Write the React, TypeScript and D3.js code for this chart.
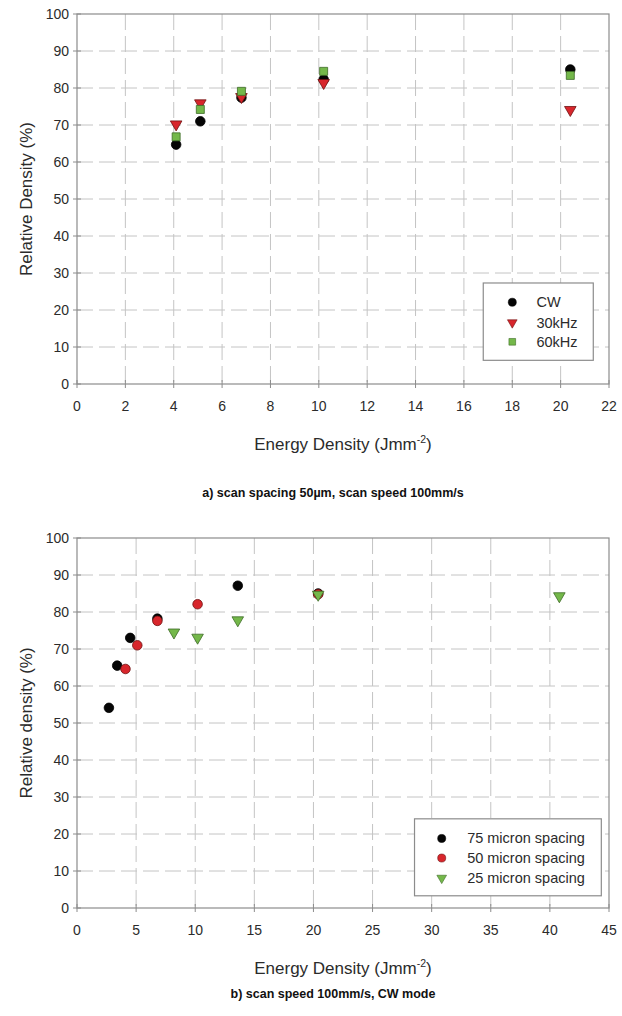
import React, { useEffect, useRef } from "react";
import * as d3 from "d3";

// panel a) scan spacing 50um, scan speed 100mm/s
const energyA = [4.1, 5.1, 6.8, 10.2, 20.4];
const cwA = [64.7, 71.0, 77.4, 82.3, 85.0];
const khz30A = [70.2, 75.9, 77.6, 81.4, 74.1];
const khz60A = [66.8, 74.2, 79.1, 84.5, 83.4];
const xTicksA = [0, 2, 4, 6, 8, 10, 12, 14, 16, 18, 20, 22];

// panel b) scan speed 100mm/s, CW mode
const energy75 = [2.7, 3.4, 4.5, 6.8, 13.6, 20.4];
const density75 = [54.1, 65.5, 73.0, 78.2, 87.1, 85.0];
const energy50 = [4.1, 5.1, 6.8, 10.2, 20.4];
const density50 = [64.6, 71.0, 77.6, 82.1, 84.8];
const energy25 = [8.2, 10.2, 13.6, 20.4, 40.8];
const density25 = [74.5, 73.1, 77.8, 84.7, 84.3];
const xTicksB = [0, 5, 10, 15, 20, 25, 30, 35, 40, 45];

const yTicks = [0, 10, 20, 30, 40, 50, 60, 70, 80, 90, 100];

const FONT = "'Liberation Sans', Arial, sans-serif";
const TEXT = "#2b2b2b";

const STYLES = {
  black: { fill: "#050505", stroke: "#000" },
  red: { fill: "#d8262c", stroke: "#6e1212" },
  green: { fill: "#74b84a", stroke: "#3e6b27" },
};

function symbolPath(shape, size) {
  const type =
    shape === "circle"
      ? d3.symbolCircle
      : shape === "square"
      ? d3.symbolSquare
      : d3.symbolTriangle;
  return d3.symbol().type(type).size(size)();
}

function drawPanel(svg, cfg) {
  const { top, bottom, left, right, xTicks, series, yTitle, caption, legend } =
    cfg;
  const x = d3
    .scaleLinear()
    .domain([0, xTicks[xTicks.length - 1]])
    .range([left, right]);
  const y = d3.scaleLinear().domain([0, 100]).range([bottom, top]);
  const g = svg.append("g");

  // dashed grid
  g.selectAll("line.vgrid")
    .data(xTicks.slice(1, -1))
    .join("line")
    .attr("x1", (d) => x(d))
    .attr("x2", (d) => x(d))
    .attr("y1", top)
    .attr("y2", bottom)
    .attr("stroke", "#c4c4c4")
    .attr("stroke-dasharray", "16,6");
  g.selectAll("line.hgrid")
    .data(yTicks.slice(1, -1))
    .join("line")
    .attr("x1", left)
    .attr("x2", right)
    .attr("y1", (d) => y(d))
    .attr("y2", (d) => y(d))
    .attr("stroke", "#c4c4c4")
    .attr("stroke-dasharray", "16,6");

  // frame
  g.append("rect")
    .attr("x", left)
    .attr("y", top)
    .attr("width", right - left)
    .attr("height", bottom - top)
    .attr("fill", "none")
    .attr("stroke", "#8c8c8c")
    .attr("stroke-width", 1.2);

  // ticks
  g.selectAll("line.xtick")
    .data(xTicks)
    .join("line")
    .attr("x1", (d) => x(d))
    .attr("x2", (d) => x(d))
    .attr("y1", bottom - 4)
    .attr("y2", bottom + 4)
    .attr("stroke", "#8c8c8c");
  g.selectAll("line.ytick")
    .data(yTicks)
    .join("line")
    .attr("x1", left - 4)
    .attr("x2", left + 4)
    .attr("y1", (d) => y(d))
    .attr("y2", (d) => y(d))
    .attr("stroke", "#8c8c8c");

  // tick labels
  g.selectAll("text.xlab")
    .data(xTicks)
    .join("text")
    .attr("x", (d) => x(d))
    .attr("y", bottom + 27)
    .attr("text-anchor", "middle")
    .attr("fill", TEXT)
    .style("font", `14px ${FONT}`)
    .text((d) => d);
  g.selectAll("text.ylab")
    .data(yTicks)
    .join("text")
    .attr("x", left - 8)
    .attr("y", (d) => y(d) + 5)
    .attr("text-anchor", "end")
    .attr("fill", TEXT)
    .style("font", `14px ${FONT}`)
    .text((d) => d);

  // axis titles
  const xt = g
    .append("text")
    .attr("x", (left + right) / 2)
    .attr("y", bottom + 66)
    .attr("text-anchor", "middle")
    .attr("fill", TEXT)
    .style("font", `17px ${FONT}`);
  xt.append("tspan").text("Energy Density (Jmm");
  xt.append("tspan").attr("dy", -7).style("font-size", "10.5px").text("-2");
  xt.append("tspan").attr("dy", 7).text(")");

  g.append("text")
    .attr("transform", `translate(32,${(top + bottom) / 2}) rotate(-90)`)
    .attr("text-anchor", "middle")
    .attr("fill", TEXT)
    .style("font", `17px ${FONT}`)
    .text(yTitle);

  g.append("text")
    .attr("x", caption.x)
    .attr("y", caption.y)
    .attr("text-anchor", "middle")
    .attr("fill", "#111")
    .style("font", `bold 12.5px ${FONT}`)
    .text(caption.text);

  // data points
  series.forEach((s) => {
    const pts = s.xs.map((v, i) => [v, s.ys[i]]);
    g.selectAll(null)
      .data(pts)
      .join("path")
      .attr("d", symbolPath(s.shape, s.size))
      .attr(
        "transform",
        (d) =>
          `translate(${x(d[0])},${y(d[1])})` +
          (s.shape === "triangle" ? " rotate(180)" : "")
      )
      .attr("fill", STYLES[s.color].fill)
      .attr("stroke", STYLES[s.color].stroke)
      .attr("stroke-width", 0.8);
  });

  // legend
  const lx0 = x(legend.x0);
  const lx1 = x(legend.x1);
  const ly0 = y(legend.y0);
  const ly1 = y(legend.y1);
  g.append("rect")
    .attr("x", lx0)
    .attr("y", ly0)
    .attr("width", lx1 - lx0)
    .attr("height", ly1 - ly0)
    .attr("fill", "#fff")
    .attr("stroke", "#8c8c8c")
    .attr("stroke-width", 1.2);
  series.forEach((s, i) => {
    const cy = y(legend.rows[i]);
    g.append("path")
      .attr("d", symbolPath(s.shape, s.size * 0.7))
      .attr(
        "transform",
        `translate(${x(legend.marker)},${cy})` +
          (s.shape === "triangle" ? " rotate(180)" : "")
      )
      .attr("fill", STYLES[s.color].fill)
      .attr("stroke", STYLES[s.color].stroke)
      .attr("stroke-width", 0.6);
    g.append("text")
      .attr("x", x(legend.text))
      .attr("y", cy + 5)
      .attr("fill", TEXT)
      .style("font", `14.5px ${FONT}`)
      .text(s.name);
  });
}

export default function App() {
  const svgRef = useRef(null);

  useEffect(() => {
    const svg = d3.select(svgRef.current);
    svg.selectAll("*").remove();

    drawPanel(svg, {
      top: 14,
      bottom: 384,
      left: 77,
      right: 609,
      xTicks: xTicksA,
      yTitle: "Relative Density (%)",
      caption: { x: 333, y: 497, text: "a) scan spacing 50\u00b5m, scan speed 100mm/s" },
      series: [
        { name: "CW", xs: energyA, ys: cwA, shape: "circle", color: "black", size: 72 },
        { name: "30kHz", xs: energyA, ys: khz30A, shape: "triangle", color: "red", size: 58 },
        { name: "60kHz", xs: energyA, ys: khz60A, shape: "square", color: "green", size: 64 },
      ],
      legend: { x0: 16.8, x1: 21.35, y0: 27.3, y1: 6.4, marker: 18, text: 19, rows: [22.1, 16.6, 11.4] },
    });

    drawPanel(svg, {
      top: 538,
      bottom: 908,
      left: 77,
      right: 609,
      xTicks: xTicksB,
      yTitle: "Relative density (%)",
      caption: { x: 333, y: 998, text: "b) scan speed 100mm/s, CW mode" },
      series: [
        { name: "75 micron spacing", xs: energy75, ys: density75, shape: "circle", color: "black", size: 72 },
        { name: "50 micron spacing", xs: energy50, ys: density50, shape: "circle", color: "red", size: 72 },
        { name: "25 micron spacing", xs: energy25, ys: density25, shape: "triangle", color: "green", size: 58 },
      ],
      legend: { x0: 28.55, x1: 44.35, y0: 24.1, y1: 3.3, marker: 30.85, text: 33, rows: [18.8, 13.5, 8.1] },
    });
  }, []);

  return (
    <svg
      ref={svgRef}
      width={622}
      height={1016}
      style={{ position: "absolute", left: 0, top: 0, background: "#fff" }}
    ></svg>
  );
}
